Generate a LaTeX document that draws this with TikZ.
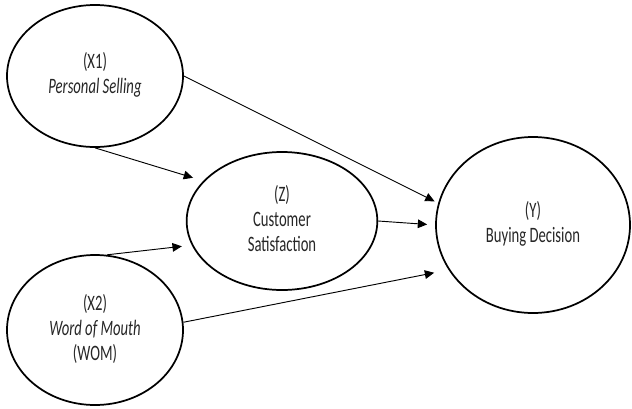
\documentclass[tikz,border=0pt]{standalone}
\usepackage{fontspec}
\usepackage{graphicx}
\setmainfont{Carlito}
\usetikzlibrary{positioning,shapes.geometric,arrows.meta}
\definecolor{outline}{HTML}{000000}
\definecolor{labeltext}{HTML}{262626}
% labels of the figure are tall and narrow
\newcommand{\stretchlabel}[1]{\scalebox{1}[1.5]{\fontsize{11pt}{12.5pt}\selectfont\begin{tabular}{@{}c@{}}#1\end{tabular}}}

\begin{document}
\begin{tikzpicture}[x=0.75pt,y=-0.75pt,
    construct/.style={ellipse,draw=outline,line width=1.3pt,inner sep=0pt,text=labeltext},
    effect/.style={draw=outline,line width=0.7pt,-{Triangle[length=7pt,width=6.5pt]}}]
    \useasboundingbox (0,0) rectangle (632,408);

    % Constructs of the model
    \node[construct,minimum width=132pt,minimum height=106.5pt] (x1) at (95,76) {\stretchlabel{(X1)\\\textit{Personal Selling}}};
    \node[construct,minimum width=132pt,minimum height=112.5pt] (x2) at (95,330) {\stretchlabel{(X2)\\\textit{Word of Mouth}\\(WOM)}};
    \node[construct,minimum width=143pt,minimum height=103.5pt] (z) at (282,221) {\stretchlabel{(Z)\\Customer\\Satisfaction}};
    \node[construct,minimum width=145.5pt,minimum height=132pt] (y) at (533,225) {\stretchlabel{(Y)\\Buying Decision}};

    % Paths between constructs
    \draw[effect,shorten >=3pt] (x1.east) -- (y.167);
    \draw[effect,shorten >=8pt] (x1.south) -- (z.153);
    \draw[effect,shorten >=7.5pt] (x2.81) -- (z.195);
    \draw[effect,shorten >=11pt] (x2.5) -- (y.208);
    \draw[effect,shorten >=6pt] (z.east) -- (y.west);
\end{tikzpicture}
\end{document}
